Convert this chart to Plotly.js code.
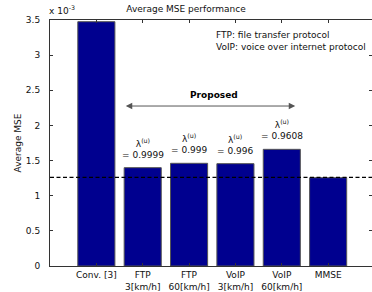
<!DOCTYPE html>
<html><head><meta charset="utf-8">
<script src="https://cdn.plot.ly/plotly-3.0.1.min.js"></script>
<style>html,body{margin:0;padding:0;background:#fff}#c{width:372px;height:292px}</style>
</head><body><div id="c"></div>
<script>
// Data (Average MSE, in units of 1e-3)
var categories = ["Conv. [3]", "FTP<br>3[km/h]", "FTP<br>60[km/h]", "VoIP<br>3[km/h]", "VoIP<br>60[km/h]", "MMSE"];
var avgMse = [3.476, 1.399, 1.461, 1.456, 1.660, 1.256];
var lambdaLabels = [null, "0.9999", "0.999", "0.996", "0.9608", null];
var mmseLevel = 1.262;
var yTicks = [0, 0.5, 1, 1.5, 2, 2.5, 3, 3.5];

var xPos = categories.map(function(_, i){ return i + 1; });
var F = "DejaVu Sans, Arial, sans-serif";

var trace = {
  type: "bar", x: xPos, y: avgMse, width: 0.8,
  marker: {color: "rgb(0,0,143)", line: {color: "#555", width: 1}},
  hoverinfo: "skip"
};

var annotations = [];
lambdaLabels.forEach(function(v, i){
  if (v === null) return;
  annotations.push({
    x: xPos[i], y: avgMse[i], xref: "x", yref: "y",
    text: "λ<sup>(u)</sup><br>= " + v, showarrow: false,
    yanchor: "bottom", yshift: 6, font: {family: F, size: 9, color: "#111"}
  });
});
// Proposed arrow (double-headed)
annotations.push({
  x: 5.29, y: 2.276, ax: 1.57, ay: 2.276, xref: "x", yref: "y", axref: "x", ayref: "y",
  text: " ", showarrow: true, arrowside: "end+start", arrowhead: 2, arrowsize: 1.3,
  arrowwidth: 1, arrowcolor: "#555", font: {family: F, size: 9}
});
annotations.push({
  x: 3.53, y: 2.43, xref: "x", yref: "y", text: "<b>Proposed</b>", showarrow: false,
  font: {family: F, size: 9, color: "#000"}
});
annotations.push({
  xref: "x", yref: "y", x: 3.53, y: 3.2, xanchor: "left", yanchor: "middle",
  text: "FTP: file transfer protocol<br>VoIP: voice over internet protocol",
  align: "left", showarrow: false, font: {family: F, size: 9, color: "#111"}
});
annotations.push({
  xref: "paper", yref: "paper", x: 0, y: 1, xanchor: "left", yanchor: "bottom", yshift: 2, xshift: -3,
  text: "x 10<sup>-3</sup>", showarrow: false, font: {family: F, size: 9, color: "#111"}
});

var layout = {
  width: 372, height: 292,
  margin: {l: 50, r: 0, t: 20, b: 26, pad: 0},
  paper_bgcolor: "#fff", plot_bgcolor: "#fff",
  showlegend: false,
  title: {text: "Average MSE performance", font: {family: F, size: 9, color: "#111"},
          x: 0.5, xanchor: "center", y: 1, yanchor: "top", yref: "container", pad: {t: 6}},
  xaxis: {
    range: [0, 6.946], tickvals: xPos, ticktext: categories,
    ticks: "inside", ticklen: 3, tickcolor: "#333",
    showline: true, linecolor: "#333", linewidth: 1, mirror: "ticks",
    showgrid: false, zeroline: false, fixedrange: true,
    tickfont: {family: F, size: 9, color: "#111"}
  },
  yaxis: {
    range: [0, 3.5], tickvals: yTicks, ticktext: yTicks.map(String),
    ticks: "inside", ticklen: 3, tickcolor: "#333",
    showline: true, linecolor: "#333", linewidth: 1, mirror: "ticks",
    showgrid: false, zeroline: false, fixedrange: true,
    ticklabelstandoff: 7,
    tickfont: {family: F, size: 9, color: "#111"},
    title: {text: "Average MSE", font: {family: F, size: 9, color: "#111"}, standoff: 2}
  },
  shapes: [{
    type: "line", xref: "paper", yref: "y", x0: 0, x1: 1, y0: mmseLevel, y1: mmseLevel,
    line: {color: "#000", width: 1.3, dash: "4px,2.5px"}
  }],
  annotations: annotations
};

Plotly.newPlot("c", [trace], layout, {displayModeBar: false, staticPlot: true});
</script></body></html>
